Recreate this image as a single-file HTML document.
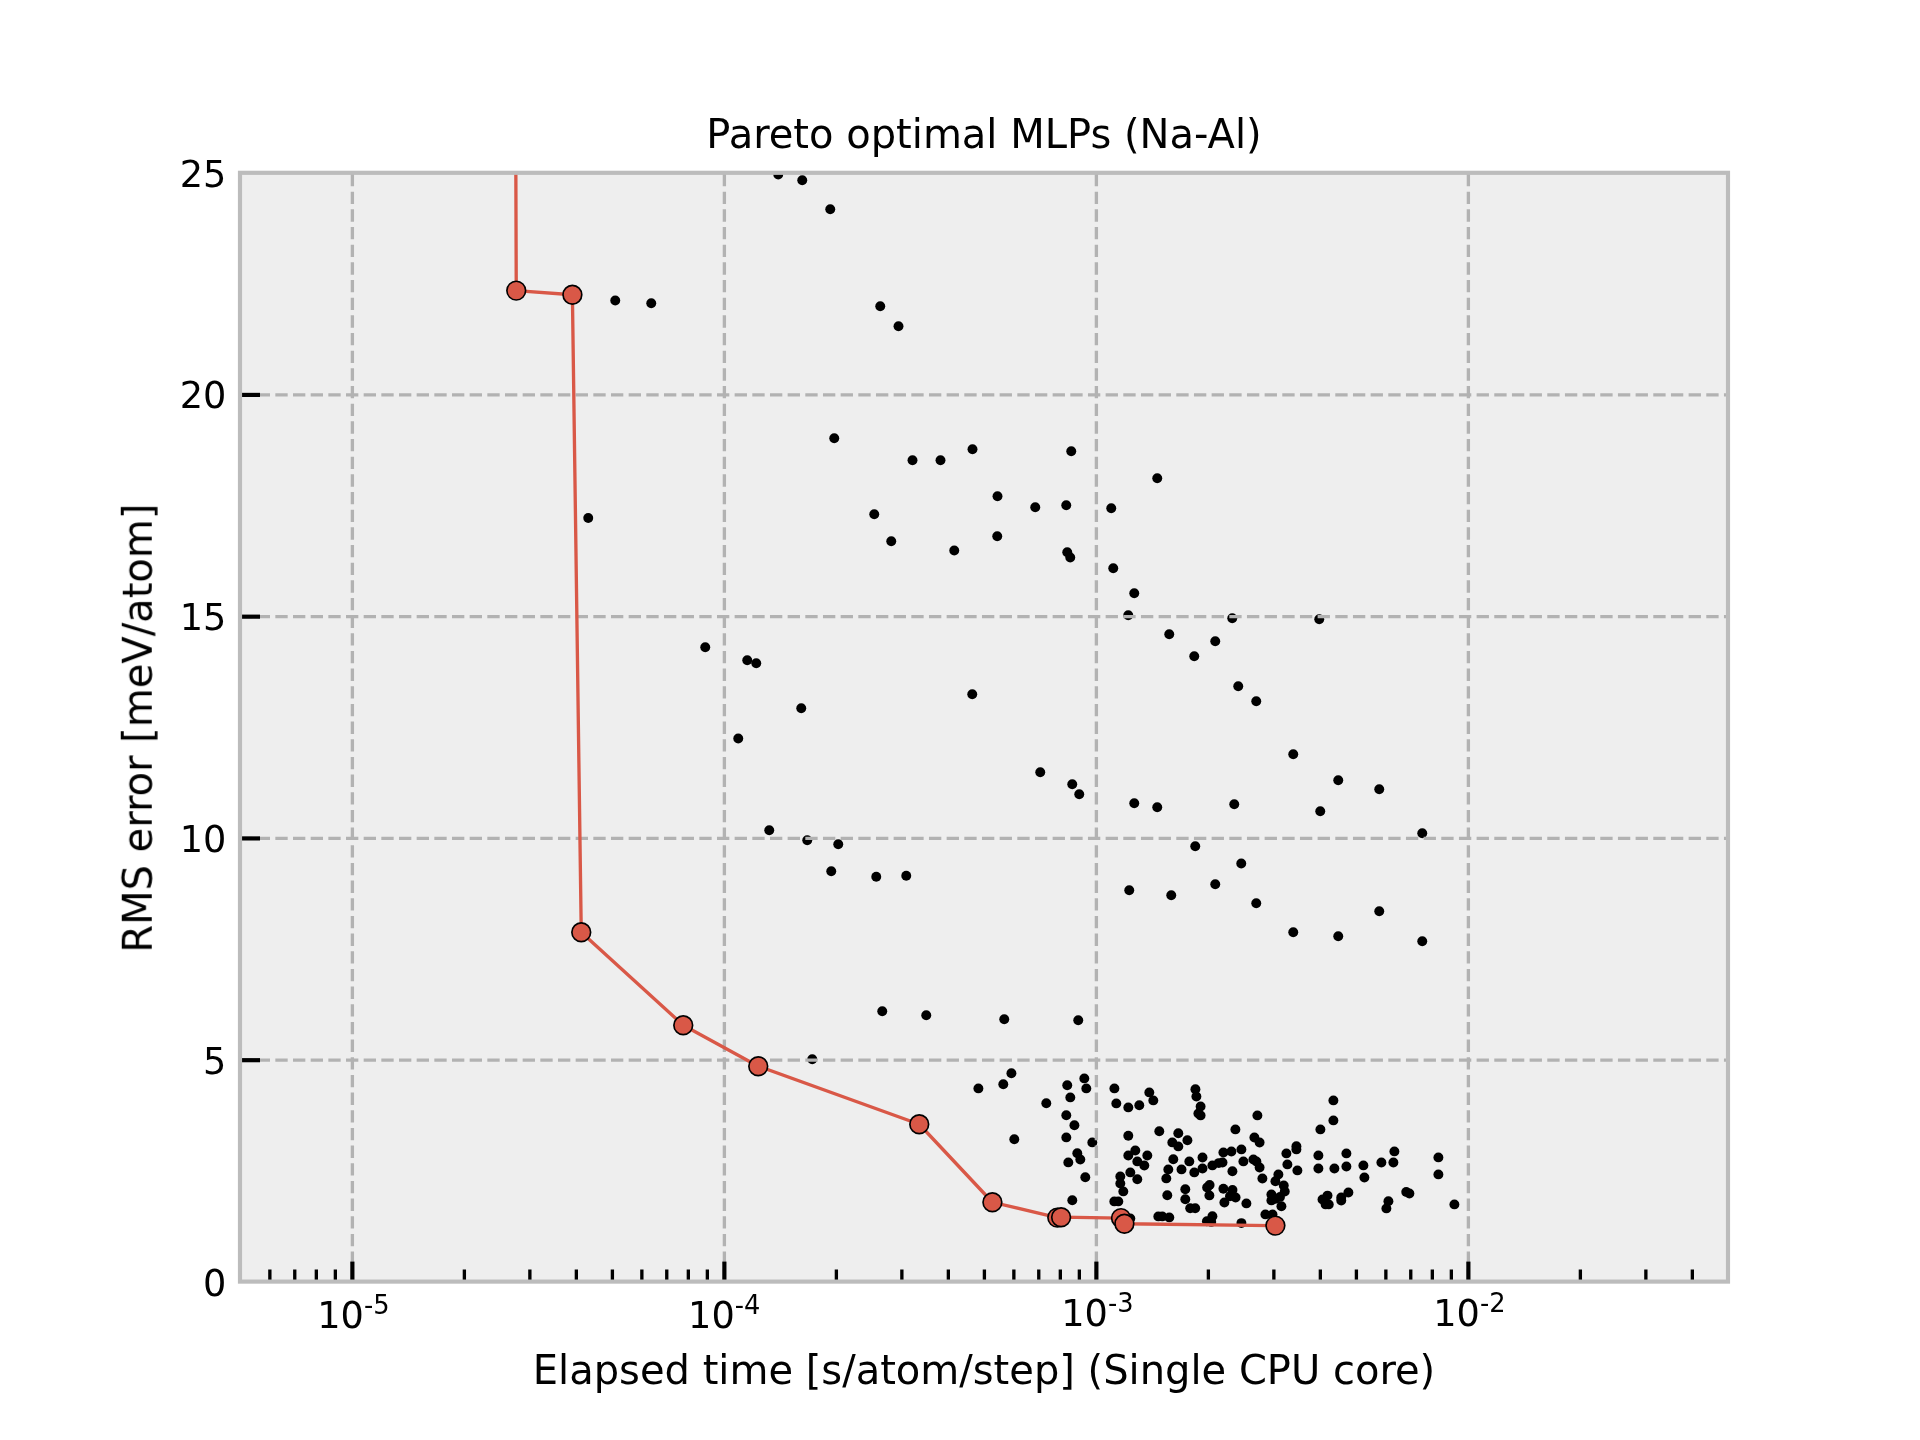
<!DOCTYPE html>
<html lang="en"><head><meta charset="utf-8"><title>Pareto optimal MLPs (Na-Al)</title>
<style>html,body{margin:0;padding:0;background:#fff;overflow:hidden}svg{display:block}text{font-family:"DejaVu Sans","Liberation Sans",sans-serif;fill:#000}.t{font-size:36.667px}.e{font-size:25.667px}.l{font-size:40px}.g{stroke:#b2b2b2;stroke-width:3.333;stroke-dasharray:12.333 5.333;fill:none}.d{fill:#000}.M{stroke:#000;stroke-width:4.167}.m{stroke:#000;stroke-width:3.333}.p{fill:#d95847;stroke:#000;stroke-width:1.667}</style></head><body>
<svg width="1920" height="1440" viewBox="0 0 1920 1440">
<defs><clipPath id="c"><rect x="240" y="172.8" width="1488" height="1108.8"/></clipPath></defs>
<rect width="1920" height="1440" fill="#fff"/>
<rect x="240" y="172.8" width="1488" height="1108.8" fill="#eee"/>
<g clip-path="url(#c)" class="d">
<circle cx="615.25" cy="300.5" r="4.96"/>
<circle cx="651.25" cy="303.25" r="4.96"/>
<circle cx="778.25" cy="174.5" r="4.96"/>
<circle cx="802.25" cy="180.25" r="4.96"/>
<circle cx="830.25" cy="209.25" r="4.96"/>
<circle cx="880.25" cy="306.25" r="4.96"/>
<circle cx="898.5" cy="326.25" r="4.96"/>
<circle cx="834.25" cy="438.25" r="4.96"/>
<circle cx="912.5" cy="460.25" r="4.96"/>
<circle cx="940.5" cy="460.25" r="4.96"/>
<circle cx="874.25" cy="514.25" r="4.96"/>
<circle cx="588.25" cy="518" r="4.96"/>
<circle cx="972.5" cy="449.25" r="4.96"/>
<circle cx="1071.25" cy="451.25" r="4.96"/>
<circle cx="1157.25" cy="478.25" r="4.96"/>
<circle cx="997.5" cy="496.25" r="4.96"/>
<circle cx="1035.25" cy="507.25" r="4.96"/>
<circle cx="1066.25" cy="505.25" r="4.96"/>
<circle cx="1111.25" cy="508.25" r="4.96"/>
<circle cx="891.25" cy="541.25" r="4.96"/>
<circle cx="954.25" cy="550.5" r="4.96"/>
<circle cx="705.25" cy="647.25" r="4.96"/>
<circle cx="747.25" cy="660.25" r="4.96"/>
<circle cx="756.25" cy="663.25" r="4.96"/>
<circle cx="801.25" cy="708.25" r="4.96"/>
<circle cx="738.25" cy="738.5" r="4.96"/>
<circle cx="769.25" cy="830.25" r="4.96"/>
<circle cx="807.25" cy="840.25" r="4.96"/>
<circle cx="838.25" cy="844.25" r="4.96"/>
<circle cx="831.25" cy="871.25" r="4.96"/>
<circle cx="876.25" cy="876.75" r="4.96"/>
<circle cx="906.25" cy="875.75" r="4.96"/>
<circle cx="997.25" cy="536.25" r="4.96"/>
<circle cx="1067.25" cy="552.25" r="4.96"/>
<circle cx="1070.25" cy="557.5" r="4.96"/>
<circle cx="1113.25" cy="568.25" r="4.96"/>
<circle cx="1134.25" cy="593.25" r="4.96"/>
<circle cx="1128.25" cy="615.25" r="4.96"/>
<circle cx="1232.25" cy="618.25" r="4.96"/>
<circle cx="1319.25" cy="619.25" r="4.96"/>
<circle cx="1169.25" cy="634.25" r="4.96"/>
<circle cx="1215.25" cy="641.25" r="4.96"/>
<circle cx="1194.25" cy="656.25" r="4.96"/>
<circle cx="1238.25" cy="686.25" r="4.96"/>
<circle cx="1256.25" cy="701.25" r="4.96"/>
<circle cx="972.25" cy="694.25" r="4.96"/>
<circle cx="1293.25" cy="754.25" r="4.96"/>
<circle cx="1040.25" cy="772.25" r="4.96"/>
<circle cx="1072.25" cy="784.25" r="4.96"/>
<circle cx="1079.25" cy="794.25" r="4.96"/>
<circle cx="1134.25" cy="803.25" r="4.96"/>
<circle cx="1157.25" cy="807.25" r="4.96"/>
<circle cx="1234.25" cy="804.25" r="4.96"/>
<circle cx="1338.25" cy="780.25" r="4.96"/>
<circle cx="1379.25" cy="789.25" r="4.96"/>
<circle cx="1320.25" cy="811.25" r="4.96"/>
<circle cx="1422.25" cy="833.25" r="4.96"/>
<circle cx="1195.25" cy="846.25" r="4.96"/>
<circle cx="1241.25" cy="863.5" r="4.96"/>
<circle cx="1215.25" cy="884.25" r="4.96"/>
<circle cx="1129.25" cy="890.25" r="4.96"/>
<circle cx="1171.25" cy="895.25" r="4.96"/>
<circle cx="1256.25" cy="903.25" r="4.96"/>
<circle cx="1379.25" cy="911.25" r="4.96"/>
<circle cx="1293.25" cy="932.25" r="4.96"/>
<circle cx="1338.25" cy="936.25" r="4.96"/>
<circle cx="1422.25" cy="941.25" r="4.96"/>
<circle cx="1004.25" cy="1019.25" r="4.96"/>
<circle cx="1078.25" cy="1020.25" r="4.96"/>
<circle cx="882.25" cy="1011.25" r="4.96"/>
<circle cx="926.25" cy="1015.25" r="4.96"/>
<circle cx="812.25" cy="1059.25" r="4.96"/>
<circle cx="978.4" cy="1088.4" r="4.96"/>
<circle cx="1003.3" cy="1084.3" r="4.96"/>
<circle cx="1011.4" cy="1073.3" r="4.96"/>
<circle cx="1046.3" cy="1103.3" r="4.96"/>
<circle cx="1067.25" cy="1085.3" r="4.96"/>
<circle cx="1070.3" cy="1097.4" r="4.96"/>
<circle cx="1084.3" cy="1078.4" r="4.96"/>
<circle cx="1086.3" cy="1088.4" r="4.96"/>
<circle cx="1066.3" cy="1115.3" r="4.96"/>
<circle cx="1074.4" cy="1125.3" r="4.96"/>
<circle cx="1066.3" cy="1137.4" r="4.96"/>
<circle cx="1014.3" cy="1139.3" r="4.96"/>
<circle cx="1092.3" cy="1142.4" r="4.96"/>
<circle cx="1077.3" cy="1153.3" r="4.96"/>
<circle cx="1080.3" cy="1159.5" r="4.96"/>
<circle cx="1068.3" cy="1162.4" r="4.96"/>
<circle cx="1085.3" cy="1177.3" r="4.96"/>
<circle cx="1072.3" cy="1200.3" r="4.96"/>
<circle cx="1114.4" cy="1088.4" r="4.96"/>
<circle cx="1116.3" cy="1103.4" r="4.96"/>
<circle cx="1128.3" cy="1107.4" r="4.96"/>
<circle cx="1139.3" cy="1105.3" r="4.96"/>
<circle cx="1149.3" cy="1092.4" r="4.96"/>
<circle cx="1153.3" cy="1100.4" r="4.96"/>
<circle cx="1128.3" cy="1135.8" r="4.96"/>
<circle cx="1159.3" cy="1131.3" r="4.96"/>
<circle cx="1178.3" cy="1133.3" r="4.96"/>
<circle cx="1187.4" cy="1140.3" r="4.96"/>
<circle cx="1172.3" cy="1142.4" r="4.96"/>
<circle cx="1178.3" cy="1146.4" r="4.96"/>
<circle cx="1135.3" cy="1150.5" r="4.96"/>
<circle cx="1128.3" cy="1155.5" r="4.96"/>
<circle cx="1147.3" cy="1155.5" r="4.96"/>
<circle cx="1137.3" cy="1161.4" r="4.96"/>
<circle cx="1144.3" cy="1165.5" r="4.96"/>
<circle cx="1173.3" cy="1159.3" r="4.96"/>
<circle cx="1189.3" cy="1161.4" r="4.96"/>
<circle cx="1168.3" cy="1169.4" r="4.96"/>
<circle cx="1181.5" cy="1169.4" r="4.96"/>
<circle cx="1194.3" cy="1172.4" r="4.96"/>
<circle cx="1130.3" cy="1172.4" r="4.96"/>
<circle cx="1120.3" cy="1176.4" r="4.96"/>
<circle cx="1137.3" cy="1179.3" r="4.96"/>
<circle cx="1120.3" cy="1183.4" r="4.96"/>
<circle cx="1123.3" cy="1191.4" r="4.96"/>
<circle cx="1166.3" cy="1178.4" r="4.96"/>
<circle cx="1185.3" cy="1189.3" r="4.96"/>
<circle cx="1167.3" cy="1195.3" r="4.96"/>
<circle cx="1185.3" cy="1199.3" r="4.96"/>
<circle cx="1114.3" cy="1201.4" r="4.96"/>
<circle cx="1118.3" cy="1201.4" r="4.96"/>
<circle cx="1190.2" cy="1208.3" r="4.96"/>
<circle cx="1195.2" cy="1208.3" r="4.96"/>
<circle cx="1158.3" cy="1216.4" r="4.96"/>
<circle cx="1162.3" cy="1216.4" r="4.96"/>
<circle cx="1169.3" cy="1217.4" r="4.96"/>
<circle cx="1130.3" cy="1218.4" r="4.96"/>
<circle cx="1195.4" cy="1089.3" r="4.96"/>
<circle cx="1196.4" cy="1096.6" r="4.96"/>
<circle cx="1200.6" cy="1106.5" r="4.96"/>
<circle cx="1198.4" cy="1113.5" r="4.96"/>
<circle cx="1200.6" cy="1115.4" r="4.96"/>
<circle cx="1257.4" cy="1115.4" r="4.96"/>
<circle cx="1235.4" cy="1129.4" r="4.96"/>
<circle cx="1254.4" cy="1137.5" r="4.96"/>
<circle cx="1259.6" cy="1142.5" r="4.96"/>
<circle cx="1241.4" cy="1149.4" r="4.96"/>
<circle cx="1231.4" cy="1151.5" r="4.96"/>
<circle cx="1223.4" cy="1152.5" r="4.96"/>
<circle cx="1202.5" cy="1157.5" r="4.96"/>
<circle cx="1243.4" cy="1161.4" r="4.96"/>
<circle cx="1253.4" cy="1159.4" r="4.96"/>
<circle cx="1256.4" cy="1161.5" r="4.96"/>
<circle cx="1259.6" cy="1167.5" r="4.96"/>
<circle cx="1222.5" cy="1162.5" r="4.96"/>
<circle cx="1218.75" cy="1163.1" r="4.96"/>
<circle cx="1212.4" cy="1165.4" r="4.96"/>
<circle cx="1202.5" cy="1168.5" r="4.96"/>
<circle cx="1232.4" cy="1171.25" r="4.96"/>
<circle cx="1262.4" cy="1178.5" r="4.96"/>
<circle cx="1278.4" cy="1174.4" r="4.96"/>
<circle cx="1275.4" cy="1181.25" r="4.96"/>
<circle cx="1283.75" cy="1185.4" r="4.96"/>
<circle cx="1284.75" cy="1191.5" r="4.96"/>
<circle cx="1271.4" cy="1194.4" r="4.96"/>
<circle cx="1280" cy="1196.9" r="4.96"/>
<circle cx="1271.4" cy="1200.4" r="4.96"/>
<circle cx="1275.6" cy="1198.75" r="4.96"/>
<circle cx="1281.4" cy="1206.25" r="4.96"/>
<circle cx="1265.4" cy="1214.4" r="4.96"/>
<circle cx="1272.5" cy="1214.4" r="4.96"/>
<circle cx="1286.4" cy="1153.4" r="4.96"/>
<circle cx="1296.4" cy="1146.25" r="4.96"/>
<circle cx="1296.4" cy="1149.4" r="4.96"/>
<circle cx="1287.4" cy="1164.4" r="4.96"/>
<circle cx="1297.4" cy="1170.4" r="4.96"/>
<circle cx="1333.4" cy="1100.4" r="4.96"/>
<circle cx="1333.4" cy="1120.4" r="4.96"/>
<circle cx="1320.4" cy="1129.4" r="4.96"/>
<circle cx="1318.4" cy="1155.4" r="4.96"/>
<circle cx="1318.4" cy="1168.5" r="4.96"/>
<circle cx="1334.4" cy="1168.5" r="4.96"/>
<circle cx="1346.4" cy="1153.4" r="4.96"/>
<circle cx="1346.4" cy="1166.5" r="4.96"/>
<circle cx="1363.4" cy="1165.4" r="4.96"/>
<circle cx="1364.4" cy="1177.5" r="4.96"/>
<circle cx="1381.4" cy="1162.5" r="4.96"/>
<circle cx="1394.4" cy="1151.4" r="4.96"/>
<circle cx="1393.4" cy="1162.5" r="4.96"/>
<circle cx="1348.4" cy="1192.5" r="4.96"/>
<circle cx="1341.25" cy="1197.5" r="4.96"/>
<circle cx="1341.25" cy="1200.6" r="4.96"/>
<circle cx="1327.5" cy="1195.6" r="4.96"/>
<circle cx="1322.5" cy="1199.4" r="4.96"/>
<circle cx="1325.6" cy="1204.4" r="4.96"/>
<circle cx="1328.75" cy="1204.4" r="4.96"/>
<circle cx="1388.4" cy="1201.25" r="4.96"/>
<circle cx="1386.4" cy="1208.4" r="4.96"/>
<circle cx="1406.25" cy="1191.9" r="4.96"/>
<circle cx="1409.4" cy="1193.5" r="4.96"/>
<circle cx="1209.6" cy="1185" r="4.96"/>
<circle cx="1207.1" cy="1187.5" r="4.96"/>
<circle cx="1209.4" cy="1195.4" r="4.96"/>
<circle cx="1223.4" cy="1188.75" r="4.96"/>
<circle cx="1232.5" cy="1190" r="4.96"/>
<circle cx="1230" cy="1196.25" r="4.96"/>
<circle cx="1235.6" cy="1197.5" r="4.96"/>
<circle cx="1224.4" cy="1202.5" r="4.96"/>
<circle cx="1246.4" cy="1203.4" r="4.96"/>
<circle cx="1212.4" cy="1216.25" r="4.96"/>
<circle cx="1206.9" cy="1221.25" r="4.96"/>
<circle cx="1211.25" cy="1221.9" r="4.96"/>
<circle cx="1241.4" cy="1223.1" r="4.96"/>
<circle cx="1438.4" cy="1157.4" r="4.96"/>
<circle cx="1438.4" cy="1174.4" r="4.96"/>
<circle cx="1454.4" cy="1204.4" r="4.96"/>
</g>
<g clip-path="url(#c)" class="g">
<path d="M352.38 1281.6 V172.8"/>
<path d="M724.38 1281.6 V172.8"/>
<path d="M1096.38 1281.6 V172.8"/>
<path d="M1468.38 1281.6 V172.8"/>
<path d="M240 1060.19 H1728"/>
<path d="M240 838.43 H1728"/>
<path d="M240 616.67 H1728"/>
<path d="M240 394.91 H1728"/>
</g>
<g clip-path="url(#c)">
<polyline points="515.6,100 516.25,290.6 572.4,294.75 581.25,932.25 683.25,1025.25 758.25,1066.25 919.25,1124.25 992.4,1202.25 1057.3,1217.6 1061.1,1217.2 1121,1218.1 1124.4,1223.75 1275.4,1225.6" fill="none" stroke="#d95847" stroke-width="3.333" stroke-linejoin="round"/>
<g class="p">
<circle cx="515.6" cy="100" r="9.375"/>
<circle cx="516.25" cy="290.6" r="9.375"/>
<circle cx="572.4" cy="294.75" r="9.375"/>
<circle cx="581.25" cy="932.25" r="9.375"/>
<circle cx="683.25" cy="1025.25" r="9.375"/>
<circle cx="758.25" cy="1066.25" r="9.375"/>
<circle cx="919.25" cy="1124.25" r="9.375"/>
<circle cx="992.4" cy="1202.25" r="9.375"/>
<circle cx="1057.3" cy="1217.6" r="9.375"/>
<circle cx="1061.1" cy="1217.2" r="9.375"/>
<circle cx="1121" cy="1218.1" r="9.375"/>
<circle cx="1124.4" cy="1223.75" r="9.375"/>
<circle cx="1275.4" cy="1225.6" r="9.375"/>
</g></g>
<g class="m">
<path d="M269.86 1281.6 v-12.1"/>
<path d="M294.76 1281.6 v-12.1"/>
<path d="M316.33 1281.6 v-12.1"/>
<path d="M335.36 1281.6 v-12.1"/>
<path d="M464.37 1281.6 v-12.1"/>
<path d="M529.87 1281.6 v-12.1"/>
<path d="M576.35 1281.6 v-12.1"/>
<path d="M612.4 1281.6 v-12.1"/>
<path d="M641.86 1281.6 v-12.1"/>
<path d="M666.76 1281.6 v-12.1"/>
<path d="M688.33 1281.6 v-12.1"/>
<path d="M707.36 1281.6 v-12.1"/>
<path d="M836.37 1281.6 v-12.1"/>
<path d="M901.87 1281.6 v-12.1"/>
<path d="M948.35 1281.6 v-12.1"/>
<path d="M984.4 1281.6 v-12.1"/>
<path d="M1013.86 1281.6 v-12.1"/>
<path d="M1038.76 1281.6 v-12.1"/>
<path d="M1060.33 1281.6 v-12.1"/>
<path d="M1079.36 1281.6 v-12.1"/>
<path d="M1208.37 1281.6 v-12.1"/>
<path d="M1273.87 1281.6 v-12.1"/>
<path d="M1320.35 1281.6 v-12.1"/>
<path d="M1356.4 1281.6 v-12.1"/>
<path d="M1385.86 1281.6 v-12.1"/>
<path d="M1410.76 1281.6 v-12.1"/>
<path d="M1432.33 1281.6 v-12.1"/>
<path d="M1451.36 1281.6 v-12.1"/>
<path d="M1580.37 1281.6 v-12.1"/>
<path d="M1645.87 1281.6 v-12.1"/>
<path d="M1692.35 1281.6 v-12.1"/>
</g><g class="M">
<path d="M352.38 1281.6 v-20"/>
<path d="M724.38 1281.6 v-20"/>
<path d="M1096.38 1281.6 v-20"/>
<path d="M1468.38 1281.6 v-20"/>
<path d="M240 1060.19 h20"/>
<path d="M240 838.43 h20"/>
<path d="M240 616.67 h20"/>
<path d="M240 394.91 h20"/>
</g>
<rect x="240" y="172.8" width="1488" height="1108.8" fill="none" stroke="#bcbcbc" stroke-width="4.167" stroke-linejoin="miter"/>
<g opacity="0.999">
<text class="t" text-anchor="end" x="226.42" y="1295.53">0</text>
<text class="t" text-anchor="end" x="226.42" y="1073.77">5</text>
<text class="t" text-anchor="end" x="226.42" y="852.01">10</text>
<text class="t" text-anchor="end" x="226.42" y="630.25">15</text>
<text class="t" text-anchor="end" x="226.42" y="408.49">20</text>
<text class="t" text-anchor="end" x="226.42" y="186.73">25</text>
<text class="t" x="317.28" y="1328.04">10<tspan class="e" x="364.03" y="1313.68">-5</tspan></text>
<text class="t" x="688.08" y="1328.04">10<tspan class="e" x="734.83" y="1313.68">-4</tspan></text>
<text class="t" x="1061.28" y="1326.04">10<tspan class="e" x="1108.03" y="1311.68">-3</tspan></text>
<text class="t" x="1433.28" y="1326.04">10<tspan class="e" x="1480.03" y="1311.68">-2</tspan></text>
<text class="l" text-anchor="middle" x="984" y="1383.73">Elapsed time [s/atom/step] (Single CPU core)</text>
<text class="l" text-anchor="middle" transform="translate(151.77 728.2) rotate(-90)">RMS error [meV/atom]</text>
<text class="l" text-anchor="middle" x="984" y="147.8">Pareto optimal MLPs (Na-Al)</text>
</g>
</svg></body></html>
